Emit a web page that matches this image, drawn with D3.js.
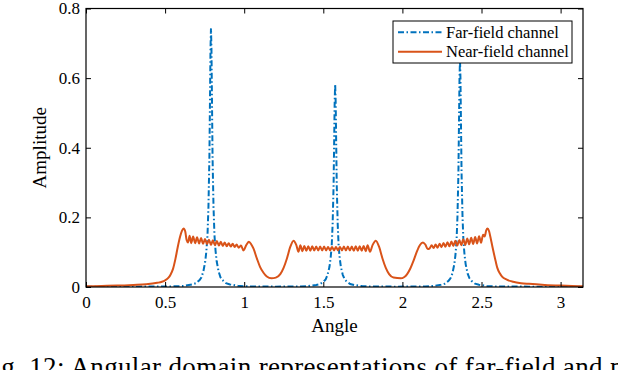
<!DOCTYPE html>
<html>
<head>
<meta charset="utf-8">
<script src="https://cdn.jsdelivr.net/npm/d3@7"></script>
<style>
  body { margin: 0; background: #fff; }
  text { font-family: "Liberation Serif", "DejaVu Serif", serif; fill: #000; }
</style>
</head>
<body>
<svg id="chart" width="618" height="370"></svg>
<script>
// axis ticks
var xTicks = [0, 0.5, 1, 1.5, 2, 2.5, 3];
var yTicks = [0, 0.2, 0.4, 0.6, 0.8];

// series names
var seriesNames = ["Far-field channel", "Near-field channel"];

// far-field channel, [angle, amplitude]
var farField = [
    [0, 0.001], [0.3, 0.001],
    [0.57, 0.0019], [0.62, 0.0033], [0.67, 0.0074], [0.695, 0.011], [0.718, 0.02], [0.73, 0.028],
    [0.742, 0.045], [0.754, 0.074], [0.761, 0.104], [0.768, 0.149], [0.774, 0.23], [0.78, 0.372],
    [0.784, 0.55], [0.787, 0.684], [0.79, 0.743], [0.793, 0.684], [0.796, 0.55], [0.8, 0.372],
    [0.806, 0.23], [0.812, 0.149], [0.819, 0.104], [0.826, 0.074], [0.838, 0.045], [0.85, 0.028],
    [0.862, 0.02], [0.885, 0.011], [0.91, 0.0074], [0.96, 0.0033], [1.01, 0.0019], [1.2, 0.001],
    [1.355, 0.0015], [1.405, 0.0026], [1.455, 0.0058], [1.48, 0.0087], [1.503, 0.016], [1.515, 0.022],
    [1.527, 0.035], [1.539, 0.058], [1.546, 0.082], [1.553, 0.117], [1.559, 0.181], [1.565, 0.292],
    [1.569, 0.431], [1.572, 0.536], [1.575, 0.583], [1.578, 0.536], [1.581, 0.431], [1.585, 0.292],
    [1.591, 0.181], [1.597, 0.117], [1.604, 0.082], [1.611, 0.058], [1.623, 0.035], [1.635, 0.022],
    [1.647, 0.016], [1.67, 0.0087], [1.695, 0.0058], [1.745, 0.0026], [1.795, 0.0015], [1.97, 0.001],
    [2.144, 0.0016], [2.194, 0.0029], [2.244, 0.0065], [2.269, 0.0098], [2.292, 0.018], [2.304, 0.025],
    [2.316, 0.039], [2.328, 0.065], [2.335, 0.091], [2.342, 0.13], [2.348, 0.202], [2.354, 0.326],
    [2.358, 0.482], [2.361, 0.6], [2.364, 0.652], [2.367, 0.6], [2.37, 0.482], [2.374, 0.326],
    [2.38, 0.202], [2.386, 0.13], [2.393, 0.091], [2.4, 0.065], [2.412, 0.039], [2.424, 0.025],
    [2.436, 0.018], [2.459, 0.0098], [2.484, 0.0065], [2.534, 0.0029], [2.584, 0.0016], [2.8, 0.001],
    [Math.PI, 0.001]
];

// near-field channel, [angle, amplitude]
var nearField = [
    [0, 0.002], [0.1, 0.003], [0.2, 0.004], [0.3, 0.006], [0.38, 0.008], [0.45, 0.012],
    [0.48, 0.015], [0.5, 0.019], [0.52, 0.026], [0.535, 0.036], [0.55, 0.052], [0.565, 0.08],
    [0.58, 0.115], [0.595, 0.145], [0.607, 0.162], [0.617, 0.168], [0.627, 0.16], [0.636, 0.135],
    [0.645, 0.128], [0.655, 0.147], [0.665, 0.126], [0.677, 0.145], [0.69, 0.126], [0.702, 0.143],
    [0.715, 0.125], [0.727, 0.141], [0.74, 0.124], [0.752, 0.138], [0.765, 0.123], [0.777, 0.136],
    [0.79, 0.121], [0.802, 0.134], [0.815, 0.12], [0.827, 0.132], [0.84, 0.119], [0.852, 0.13],
    [0.865, 0.118], [0.877, 0.128], [0.89, 0.117], [0.902, 0.126], [0.915, 0.116], [0.927, 0.124],
    [0.94, 0.115], [0.952, 0.122], [0.965, 0.113], [0.98, 0.119], [0.995, 0.105], [1.015, 0.122],
    [1.03, 0.13], [1.045, 0.122], [1.059, 0.11], [1.08, 0.082], [1.1, 0.058], [1.122, 0.041],
    [1.143, 0.03], [1.172, 0.025], [1.2, 0.027], [1.228, 0.037], [1.249, 0.055], [1.27, 0.082],
    [1.291, 0.115], [1.312, 0.133], [1.329, 0.121], [1.343, 0.101],
    [1.355, 0.12], [1.368, 0.103], [1.38, 0.118], [1.393, 0.104], [1.405, 0.117], [1.418, 0.104],
    [1.43, 0.117], [1.443, 0.105], [1.455, 0.116], [1.468, 0.105], [1.48, 0.116], [1.493, 0.105],
    [1.505, 0.116], [1.518, 0.105], [1.53, 0.115], [1.543, 0.105], [1.555, 0.115], [1.568, 0.105],
    [1.58, 0.115], [1.593, 0.105], [1.605, 0.115], [1.618, 0.105], [1.63, 0.116], [1.643, 0.105],
    [1.655, 0.116], [1.668, 0.105], [1.68, 0.116], [1.693, 0.104], [1.705, 0.117], [1.718, 0.104],
    [1.73, 0.117], [1.743, 0.104], [1.755, 0.118], [1.768, 0.103], [1.78, 0.12], [1.795, 0.101],
    [1.812, 0.121], [1.832, 0.133], [1.853, 0.115], [1.874, 0.082], [1.895, 0.055], [1.916, 0.037],
    [1.944, 0.027], [1.99, 0.025], [2.01, 0.028], [2.03, 0.037], [2.05, 0.053], [2.07, 0.075],
    [2.09, 0.1], [2.11, 0.12], [2.13, 0.128], [2.145, 0.122], [2.16, 0.109], [2.172, 0.111],
    [2.185, 0.12], [2.197, 0.112], [2.21, 0.122], [2.222, 0.113], [2.235, 0.124], [2.247, 0.1145],
    [2.26, 0.1265], [2.272, 0.1156], [2.285, 0.1287], [2.297, 0.1168], [2.31, 0.1308], [2.322, 0.1179],
    [2.335, 0.133], [2.347, 0.119], [2.36, 0.135], [2.372, 0.12], [2.385, 0.137], [2.397, 0.121],
    [2.41, 0.139], [2.422, 0.1225], [2.435, 0.1415], [2.447, 0.1236], [2.46, 0.1437], [2.472, 0.125],
    [2.485, 0.146], [2.497, 0.127], [2.51, 0.15], [2.52, 0.145], [2.53, 0.163], [2.538, 0.168],
    [2.548, 0.16], [2.557, 0.142], [2.568, 0.118], [2.578, 0.097], [2.59, 0.073], [2.6, 0.055],
    [2.615, 0.04], [2.63, 0.03], [2.66, 0.021], [2.7, 0.015], [2.75, 0.011], [2.8, 0.009],
    [2.9, 0.006], [3.0, 0.004], [Math.PI, 0.002]
];

var captionText = "Fig. 12: Angular domain representations of far-field and near-field channels.";

// plot area (名字避开 window.top)
var plotL = 86, plotR = 583, plotT = 8.5, plotB = 287;
var tickLen = 5;
var colors = ["#0072BD", "#D95319"];
var dashDot = "6,2.5,1.5,2.5";

var svg = d3.select("#chart");

var x = d3.scaleLinear().domain([0, Math.PI]).range([plotL, plotR]);
var y = d3.scaleLinear().domain([0, 0.8]).range([plotB, plotT]);

var farLine = d3.line()
    .x(function (d) { return x(d[0]); })
    .y(function (d) { return y(d[1]); });

// 近场曲线的小波纹用平滑插值
var nearLine = d3.line()
    .curve(d3.curveMonotoneX)
    .x(function (d) { return x(d[0]); })
    .y(function (d) { return y(d[1]); });

// clip curves to the axes box
svg.append("clipPath").attr("id", "clip")
    .append("rect")
    .attr("x", plotL).attr("y", plotT)
    .attr("width", plotR - plotL).attr("height", plotB - plotT);

var plotG = svg.append("g").attr("clip-path", "url(#clip)");

plotG.append("path")
    .datum(farField)
    .attr("d", farLine)
    .attr("fill", "none")
    .attr("stroke", colors[0])
    .attr("stroke-width", 2)
    .attr("stroke-dasharray", dashDot);

plotG.append("path")
    .datum(nearField)
    .attr("d", nearLine)
    .attr("fill", "none")
    .attr("stroke", colors[1])
    .attr("stroke-width", 2)
    .attr("stroke-linejoin", "round");

/* axes: ticks point inward, on all four sides */
var axisStyle = function (g) {
    g.select(".domain").remove();
    g.selectAll(".tick line").attr("stroke", "#000").attr("stroke-width", 1);
};

svg.append("g")
    .attr("transform", "translate(0," + plotB + ")")
    .call(d3.axisBottom(x).tickValues(xTicks).tickSize(-tickLen).tickPadding(9)
        .tickFormat(function (d) { return d; }))
    .call(axisStyle)
    .selectAll("text").style("font-size", "17px");

svg.append("g")
    .attr("transform", "translate(0," + plotT + ")")
    .call(d3.axisTop(x).tickValues(xTicks).tickSize(-tickLen).tickFormat(""))
    .call(axisStyle);

svg.append("g")
    .attr("transform", "translate(" + plotL + ",0)")
    .call(d3.axisLeft(y).tickValues(yTicks).tickSize(-tickLen).tickPadding(6)
        .tickFormat(function (d) { return d; }))
    .call(axisStyle)
    .selectAll("text").style("font-size", "17px");

svg.append("g")
    .attr("transform", "translate(" + plotR + ",0)")
    .call(d3.axisRight(y).tickValues(yTicks).tickSize(-tickLen).tickFormat(""))
    .call(axisStyle);

svg.selectAll(".tick text").attr("fill", "#000");
svg.selectAll("g").attr("font-family", null);

// box
svg.append("rect")
    .attr("x", plotL).attr("y", plotT)
    .attr("width", plotR - plotL).attr("height", plotB - plotT)
    .attr("fill", "none").attr("stroke", "#000").attr("stroke-width", 1.2);

// axis labels
svg.append("text")
    .attr("x", (plotL + plotR) / 2).attr("y", 332)
    .attr("text-anchor", "middle")
    .style("font-size", "19px")
    .text("Angle");

svg.append("text")
    .attr("transform", "translate(46," + (plotT + plotB) / 2 + ") rotate(-90)")
    .attr("text-anchor", "middle")
    .style("font-size", "19px")
    .text("Amplitude");

/* legend */
var legend = svg.append("g");
legend.append("rect")
    .attr("x", 393).attr("y", 21).attr("width", 179).attr("height", 42)
    .attr("fill", "#fff").attr("stroke", "#000").attr("stroke-width", 1);

var legendRows = legend.selectAll("g.row")
    .data(seriesNames)
    .enter().append("g")
    .attr("class", "row")
    .attr("transform", function (d, i) { return "translate(0," + (32.3 + i * 19.4) + ")"; });

legendRows.append("line")
    .attr("x1", 398).attr("x2", 442)
    .attr("stroke", function (d, i) { return colors[i]; })
    .attr("stroke-width", 2)
    .attr("stroke-dasharray", function (d, i) { return i == 0 ? dashDot : null; });

legendRows.append("text")
    .attr("x", 446).attr("dy", "0.33em")
    .style("font-size", "16.5px")
    .text(function (d) { return d; });

// caption, cut off by the bottom and right edges
svg.append("text")
    .attr("x", -22).attr("y", 376)
    .style("font-size", "27px")
    .style("letter-spacing", "0.35px")
    .text(captionText);
</script>
</body>
</html>
